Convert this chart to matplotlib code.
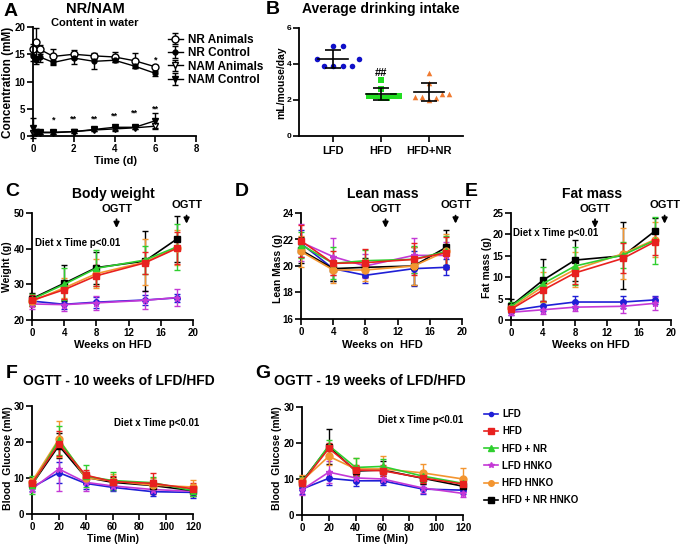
import numpy as np
import matplotlib
matplotlib.use('Agg')
import matplotlib.pyplot as plt
from matplotlib.lines import Line2D

plt.rcParams['font.family'] = ['Liberation Sans', 'DejaVu Sans']
plt.rcParams['font.weight'] = 'bold'
plt.rcParams['axes.labelweight'] = 'bold'
plt.rcParams['axes.linewidth'] = 1.3

# --- panel A: NR / NAM content in water ---
a_days = [0, 0.17, 0.33, 1, 2, 3, 4, 5, 6]
nr_animals = [15.9, 17.2, 15.9, 14.6, 15.0, 14.7, 14.5, 13.8, 12.7]
nr_animals_sd = [1.0, 2.7, 0.8, 1.3, 0.8, 0.6, 0.9, 1.4, 0.4]
nr_control = [14.7, 13.9, 14.5, 13.5, 14.3, 13.7, 13.9, 12.8, 11.5]
nr_control_sd = [1.0, 0.7, 1.0, 0.5, 1.0, 1.4, 0.4, 0.4, 0.5]
nam_animals = [0.5, 0.6, 0.6, 0.6, 0.8, 1.1, 1.3, 1.5, 1.8]
nam_animals_sd = [0.4, 0.3, 0.2, 0.2, 0.2, 0.2, 0.3, 0.3, 0.5]
nam_control = [1.5, 0.8, 0.7, 0.7, 0.8, 1.2, 1.6, 1.6, 2.8]
nam_control_sd = [1.8, 0.4, 0.3, 0.3, 0.2, 0.3, 0.5, 0.3, 1.4]
a_star_x = [1, 2, 3, 4, 5, 6, 6]
a_star_y = [2.9, 3.1, 3.2, 3.7, 4.2, 4.9, 14.0]
a_star_txt = ['*', '**', '**', '**', '**', '**', '*']

# --- panel B: average drinking intake (mL/mouse/day) ---
b_groups = ['LFD', 'HFD', 'HFD+NR']
b_lfd = [5.0, 5.0, 4.28, 4.28, 3.9, 3.9, 3.9, 3.9]
b_hfd = [3.11, 2.59, 2.09, 2.22, 2.2, 2.22, 2.09, 2.22]
b_hfd_nr = [3.48, 2.96, 2.19, 2.31, 2.09, 2.19, 2.31, 2.0]

# --- panels C-G: six diet / genotype groups ---
groups = ['LFD', 'HFD', 'HFD + NR', 'LFD HNKO', 'HFD HNKO', 'HFD + NR HNKO']
weeks = [0, 4, 8, 14, 18]
bw_mean = [[25.3, 24.4, 25.0, 25.6, 26.2],
           [25.5, 28.5, 32.4, 36.0, 40.1],
           [25.8, 30.0, 34.5, 36.8, 40.5],
           [24.5, 24.3, 24.8, 25.5, 26.3],
           [25.3, 29.0, 33.0, 36.2, 40.3],
           [26.0, 30.3, 34.7, 36.5, 42.7]]
bw_sd = [[1.5, 1.2, 1.5, 1.3, 1.2],
         [1.5, 2.5, 3.0, 3.0, 4.5],
         [1.5, 4.5, 5.0, 4.0, 6.5],
         [1.5, 1.7, 2.0, 2.5, 2.3],
         [1.5, 2.8, 4.0, 6.5, 5.0],
         [1.5, 5.0, 4.5, 8.5, 6.5]]
lean_mean = [[21.7, 19.8, 19.3, 19.8, 19.9],
             [21.9, 20.2, 20.25, 20.5, 21.0],
             [21.6, 20.2, 20.4, 20.5, 21.1],
             [21.8, 20.7, 20.0, 20.8, 20.8],
             [21.1, 19.7, 19.7, 20.0, 21.1],
             [21.2, 19.8, 19.9, 20.0, 21.4]]
lean_sd = [[1.0, 0.9, 0.6, 1.3, 0.6],
           [1.2, 0.9, 1.0, 1.2, 1.2],
           [1.0, 1.2, 0.8, 1.0, 1.2],
           [1.4, 1.4, 0.9, 1.3, 1.0],
           [1.2, 1.0, 0.8, 1.4, 1.3],
           [1.0, 0.9, 0.7, 1.4, 1.3]]
fat_mean = [[2.2, 3.3, 4.2, 4.2, 4.7],
            [2.5, 7.0, 11.0, 14.4, 18.3],
            [3.2, 8.5, 12.6, 15.2, 18.6],
            [1.8, 2.4, 3.0, 3.2, 3.9],
            [2.8, 7.8, 11.8, 15.5, 18.8],
            [3.3, 9.3, 14.0, 15.0, 20.8]]
fat_sd = [[1.0, 1.2, 1.5, 1.4, 1.0],
          [0.8, 2.5, 2.5, 3.5, 3.0],
          [1.0, 4.0, 4.5, 3.0, 5.5],
          [0.6, 1.0, 1.0, 1.5, 1.5],
          [0.8, 3.5, 4.0, 6.0, 4.0],
          [1.5, 5.0, 4.8, 7.8, 3.0]]
ogtt_min = [0, 20, 40, 60, 90, 120]
ogtt10_mean = [[7.4, 11.5, 8.5, 7.4, 6.2, 6.0],
               [8.5, 19.5, 10.8, 9.0, 8.5, 7.0],
               [8.0, 20.5, 10.5, 9.3, 8.7, 6.5],
               [7.0, 12.5, 8.8, 7.8, 6.8, 6.3],
               [9.0, 20.8, 10.0, 9.2, 8.0, 7.5],
               [8.2, 19.0, 10.2, 8.8, 7.9, 6.5]]
ogtt10_sd = [[1.0, 3.0, 1.5, 1.0, 1.2, 1.5],
             [1.0, 3.5, 1.5, 1.5, 3.0, 1.5],
             [2.5, 4.0, 3.0, 2.5, 1.5, 1.5],
             [1.0, 6.0, 2.5, 1.0, 1.0, 1.0],
             [1.0, 5.0, 1.5, 2.0, 2.0, 2.0],
             [1.0, 3.5, 1.5, 1.5, 1.5, 1.5]]
ogtt19_mean = [[7.2, 10.2, 9.5, 9.5, 7.2, 6.9],
               [9.0, 18.5, 12.5, 12.3, 10.3, 8.6],
               [9.0, 19.3, 13.2, 13.5, 10.8, 8.8],
               [7.0, 11.9, 10.3, 10.0, 7.5, 6.0],
               [9.5, 16.3, 12.8, 12.8, 11.7, 10.0],
               [9.3, 19.0, 12.2, 12.5, 10.2, 8.0]]
ogtt19_sd = [[1.5, 1.8, 1.5, 1.2, 1.5, 1.0],
             [1.0, 1.5, 1.5, 1.5, 1.5, 1.5],
             [1.5, 1.5, 2.5, 2.0, 1.5, 1.5],
             [1.5, 3.0, 1.0, 1.0, 1.5, 1.0],
             [1.5, 2.5, 3.0, 3.5, 2.5, 3.0],
             [1.5, 4.8, 1.5, 2.5, 1.5, 1.5]]

colors = ['#1f1fd6', '#e8211f', '#2fcf2f', '#c438d6', '#f39530', '#000000']
markers = ['o', 's', '^', '*', 'o', 's']
msizes = [4, 5, 5, 5, 5, 5]
draw_order = [0, 3, 5, 4, 2, 1]

W, H = 683, 547
fig = plt.figure(figsize=(W / 100, H / 100), dpi=100)


def px_axes(l, t, r, b):
    return fig.add_axes([l / W, 1 - b / H, (r - l) / W, (b - t) / H])


def ftext(x, y, s, **kw):
    fig.text(x / W, 1 - y / H, s, ha=kw.pop('ha', 'center'),
             va=kw.pop('va', 'center'), **kw)


def style(ax, lsize=7):
    for s in ['top', 'right']:
        ax.spines[s].set_visible(False)
    ax.tick_params(direction='out', length=4, width=1.2, labelsize=lsize, pad=1.5)


def group_panel(ax, x, means, sds):
    for i in draw_order:
        ax.errorbar(x, means[i], yerr=sds[i], color=colors[i], marker=markers[i],
                    ms=msizes[i], lw=1.2, elinewidth=1, capsize=2.5, capthick=1,
                    clip_on=False, zorder=3)


def ogtt_arrows(ax):
    tr = ax.get_xaxis_transform()
    for xv, yt, ytip in [(10.5, 1.04, 0.86), (19.2, 1.075, 0.90)]:
        ax.annotate('OGTT', xy=(xv, ytip), xycoords=tr, xytext=(xv, yt),
                    textcoords=tr, ha='center', va='center', fontsize=8,
                    annotation_clip=False,
                    arrowprops=dict(arrowstyle='-|>', color='k', lw=1.3,
                                    mutation_scale=8, shrinkA=2, shrinkB=0))


def swarm(vals, d=6.5, sx=48.0, sy=18.0):
    placed = []
    offs = np.zeros(len(vals))
    for i in np.argsort(vals):
        v = vals[i]
        ok = 0.0
        for k in range(400):
            cands = [0] if k == 0 else [k, -k]
            found = False
            for s in cands:
                o = s * 0.5 / sx
                if all(np.hypot((o - po) * sx, (v - pv) * sy) >= d for po, pv in placed):
                    ok = o
                    found = True
                    break
            if found:
                break
        placed.append((ok, v))
        offs[i] = ok
    return offs


# ---------- A ----------
axA = px_axes(33, 27, 196, 136)
style(axA)
axA.errorbar(a_days, nr_animals, yerr=nr_animals_sd, color='k', marker='o', ms=5,
             mfc='white', lw=1, capsize=2.5, elinewidth=1, label='NR Animals', clip_on=False)
axA.errorbar(a_days, nr_control, yerr=nr_control_sd, color='k', marker='o', ms=3.5,
             lw=1, capsize=2.5, elinewidth=1, label='NR Control', clip_on=False)
axA.errorbar(a_days, nam_animals, yerr=nam_animals_sd, color='k', marker='v', ms=5,
             mfc='white', lw=1, capsize=2.5, elinewidth=1, label='NAM Animals', clip_on=False)
axA.errorbar(a_days, nam_control, yerr=nam_control_sd, color='k', marker='v', ms=4,
             lw=1, capsize=2.5, elinewidth=1, label='NAM Control', clip_on=False)
for xs, ys, t in zip(a_star_x, a_star_y, a_star_txt):
    axA.text(xs, ys, t, ha='center', va='center', fontsize=6.5)
axA.set_xlim(0, 8)
axA.set_ylim(0, 20)
axA.set_xticks([0, 2, 4, 6, 8])
axA.set_yticks([0, 5, 10, 15, 20])
axA.legend(loc='upper left', bbox_to_anchor=(163 / W, 1 - 29 / H),
           bbox_transform=fig.transFigure, frameon=False, fontsize=8.5,
           handlelength=1.3, handletextpad=0.4, labelspacing=0.12, borderaxespad=0)
ftext(11, 11, 'A', fontsize=14)
ftext(95, 9, 'NR/NAM', fontsize=10.5)
ftext(95, 23, 'Content in water', fontsize=8)
ftext(8, 82, 'Concentration (mM)', rotation=90, fontsize=8.5)
ftext(116, 161, 'Time (d)', fontsize=8)

# ---------- B ----------
axB = px_axes(299, 28, 463, 136)
style(axB, lsize=6)
b_sets = [b_lfd, b_hfd, b_hfd_nr]
b_cols = ['#1010c8', '#22dd22', '#f07a30']
b_marks = ['o', 's', '^']
b_gap = [9.5, 6.0, 7.0]
for i, vals in enumerate(b_sets):
    v = np.array(vals)
    xs = i + swarm(v, d=b_gap[i])
    axB.scatter(xs, v, s=16, color=b_cols[i], marker=b_marks[i], zorder=2,
                clip_on=False, linewidths=0)
    m, sd = v.mean(), v.std(ddof=1)
    axB.plot([i - 0.32, i + 0.32], [m, m], color='k', lw=1.2, zorder=3)
    axB.errorbar([i], [m], yerr=[sd], color='k', lw=1.2, capsize=5.5, capthick=1.2, zorder=3)
axB.text(1, 3.5, '##', ha='center', va='center', fontsize=8)
axB.set_xlim(-0.71, 2.71)
axB.set_ylim(0, 6)
axB.set_yticks([0, 2, 4, 6])
axB.set_xticks(range(3))
axB.set_xticklabels(b_groups, fontsize=8)
axB.tick_params(axis='x', pad=3)
ftext(273, 9, 'B', fontsize=14)
ftext(381, 9, 'Average drinking intake', fontsize=10)
ftext(281, 83, 'mL/mouse/day', rotation=90, fontsize=7.5)

# ---------- C ----------
axC = px_axes(32, 213, 193, 320)
style(axC)
group_panel(axC, weeks, bw_mean, bw_sd)
axC.set_xlim(0, 20)
axC.set_ylim(20, 50)
axC.set_xticks([0, 4, 8, 12, 16, 20])
axC.set_yticks([20, 30, 40, 50])
ogtt_arrows(axC)
axC.text(0.02, 0.72, 'Diet x Time p<0.01', transform=axC.transAxes, fontsize=7, va='center')
ftext(12, 192, 'C', fontsize=14)
ftext(113, 194, 'Body weight', fontsize=10)
ftext(7, 267, 'Weight (g)', rotation=90, fontsize=7.5)
ftext(113, 345, 'Weeks on HFD', fontsize=8)

# ---------- D ----------
axD = px_axes(301, 213, 462, 319)
style(axD)
group_panel(axD, weeks, lean_mean, lean_sd)
axD.set_xlim(0, 20)
axD.set_ylim(16, 24)
axD.set_xticks([0, 4, 8, 12, 16, 20])
axD.set_yticks([16, 18, 20, 22, 24])
ogtt_arrows(axD)
ftext(242, 191, 'D', fontsize=14)
ftext(383, 194, 'Lean mass', fontsize=10)
ftext(278, 268, 'Lean Mass (g)', rotation=90, fontsize=7.5)
ftext(382, 345, 'Weeks on  HFD', fontsize=8)

# ---------- E ----------
axE = px_axes(511, 213, 671, 320)
style(axE)
group_panel(axE, weeks, fat_mean, fat_sd)
axE.set_xlim(0, 20)
axE.set_ylim(0, 25)
axE.set_xticks([0, 4, 8, 12, 16, 20])
axE.set_yticks([0, 5, 10, 15, 20, 25])
ogtt_arrows(axE)
axE.text(0.01, 0.81, 'Diet x Time p<0.01', transform=axE.transAxes, fontsize=7, va='center')
ftext(471, 191, 'E', fontsize=14)
ftext(592, 194, 'Fat mass', fontsize=10)
ftext(487, 268, 'Fat mass (g)', rotation=90, fontsize=7.5)
ftext(591, 345, 'Weeks on HFD', fontsize=8)

# ---------- F ----------
axF = px_axes(32, 406, 193, 514)
style(axF)
group_panel(axF, ogtt_min, ogtt10_mean, ogtt10_sd)
axF.set_xlim(0, 120)
axF.set_ylim(0, 30)
axF.set_xticks([0, 20, 40, 60, 80, 100, 120])
axF.set_yticks([0, 10, 20, 30])
axF.text(1.04, 0.84, 'Diet x Time p<0.01', transform=axF.transAxes, fontsize=7,
         va='center', ha='right')
ftext(12, 373, 'F', fontsize=14)
ftext(119, 381, 'OGTT - 10 weeks of LFD/HFD', fontsize=10)
ftext(8, 458, 'Blood  Glucose (mM)', rotation=90, fontsize=7.5)
ftext(113, 539, 'Time (Min)', fontsize=7.5)

# ---------- G ----------
axG = px_axes(302, 407, 463, 515)
style(axG)
group_panel(axG, ogtt_min, ogtt19_mean, ogtt19_sd)
axG.set_xlim(0, 120)
axG.set_ylim(0, 30)
axG.set_xticks([0, 20, 40, 60, 80, 100, 120])
axG.set_yticks([0, 10, 20, 30])
axG.text(0.47, 0.88, 'Diet x Time p<0.01', transform=axG.transAxes, fontsize=7, va='center')
ftext(263, 374, 'G', fontsize=14)
ftext(370, 381, 'OGTT - 19 weeks of LFD/HFD', fontsize=10)
ftext(277, 458, 'Blood  Glucose (mM)', rotation=90, fontsize=7.5)
ftext(382, 539, 'Time (Min)', fontsize=7.5)

# legend for C-G
handles = [Line2D([], [], color=colors[i], marker=markers[i], ms=msizes[i] - 1, lw=1.2)
           for i in range(len(groups))]
fig.legend(handles, groups, loc='upper left', bbox_to_anchor=(484 / W, 1 - 409 / H),
           frameon=False, fontsize=7, handlelength=1.4, handletextpad=0.5,
           labelspacing=0.75, borderaxespad=0, borderpad=0)

fig.savefig('out.png', dpi=100)
